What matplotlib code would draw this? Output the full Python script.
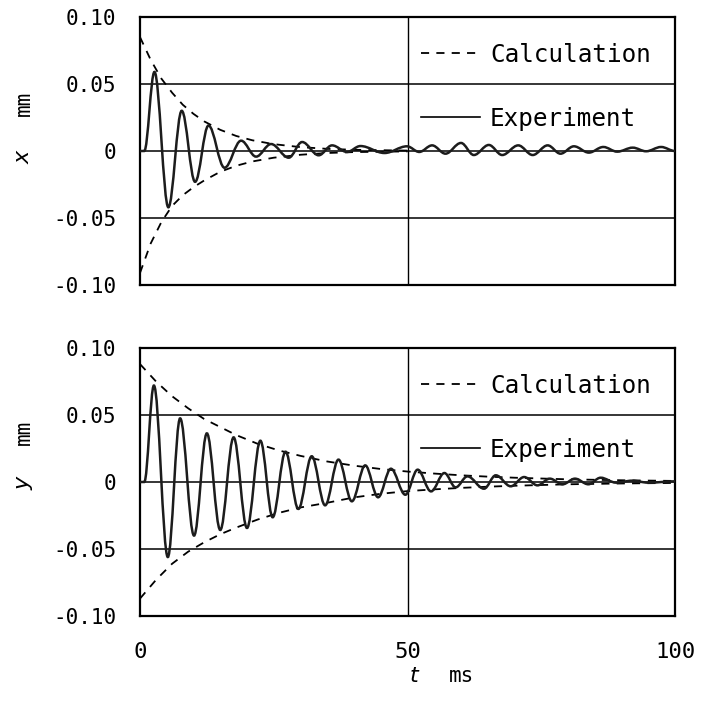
import matplotlib
matplotlib.use("Agg")
import matplotlib.pyplot as plt
from matplotlib.path import Path
from matplotlib.patches import PathPatch
from matplotlib.lines import Line2D

# ---------------- data ----------------
# Experiment, x direction: extrema (time ms, displacement mm)
x_exp_t = [0, 0.8, 2.7, 5.3, 7.8, 10.3, 12.8, 15.8, 18.9, 21.7, 24.5, 27.8, 30.3,
           33.4, 35.9, 38.7, 41.2, 45.7, 49.9, 52.2, 54.6, 57.1, 60.0, 62.4, 65.2,
           67.7, 70.7, 73.4, 76.2, 78.6, 81.1, 83.9, 86.6, 89.2, 92.1, 94.6, 97.4, 100]
x_exp_v = [0, 0, 0.059, -0.042, 0.030, -0.023, 0.019, -0.0125, 0.0077, -0.0042,
           0.0052, -0.005, 0.0067, -0.0032, 0.0042, -0.0007, 0.0037, -0.0015, 0.0035,
           -0.0007, 0.0042, -0.002, 0.006, -0.003, 0.0045, -0.003, 0.0042, -0.003,
           0.0042, -0.002, 0.0035, -0.0012, 0.003, -0.0005, 0.0025, -0.0002, 0.003, 0.0]

# Calculation envelope, x direction
x_env_t = [0, 2, 4, 6, 8, 10, 12, 15, 18, 21, 25, 30, 35, 40, 50]
x_env_up = [0.085, 0.068, 0.054, 0.0435, 0.0345, 0.0277, 0.0221, 0.0158, 0.0112,
            0.008, 0.0051, 0.0029, 0.0016, 0.0009, 0.0003]
x_env_lo = [-0.091, -0.069, -0.053, -0.041, -0.033, -0.027, -0.022, -0.0155, -0.011,
            -0.0078, -0.005, -0.0028, -0.0015, -0.0008, -0.0003]

# Experiment, y direction
y_exp_t = [0, 0.8, 2.6, 5.2, 7.5, 10.1, 12.5, 15.0, 17.5, 20.0, 22.5, 24.8, 27.2,
           29.6, 32.1, 34.6, 37.1, 39.6, 42.1, 44.5, 46.9, 49.6, 51.9, 54.4, 56.9,
           59.0, 61.2, 64.3, 66.5, 69.3, 71.8, 74.3, 76.6, 79.0, 81.3, 83.8, 86.1,
           89.0, 92.0, 95.0, 100]
y_exp_v = [0, 0, 0.072, -0.056, 0.0475, -0.040, 0.0363, -0.0358, 0.0333, -0.0343,
           0.0308, -0.0263, 0.0226, -0.0201, 0.0192, -0.0174, 0.0167, -0.0144, 0.0124,
           -0.0114, 0.0099, -0.0095, 0.0092, -0.007, 0.0067, -0.004, 0.0042, -0.005,
           0.005, -0.0032, 0.0037, -0.0025, 0.0025, -0.0017, 0.0025, -0.0017, 0.0032,
           -0.0005, 0.001, -0.0005, 0.0005]

# Calculation envelope, y direction
y_env_t = [0, 3, 6, 9, 12, 15, 18, 22, 26, 30, 35, 40, 45, 50, 55, 60, 65, 70, 80, 90, 100]
y_env_up = [0.088, 0.075, 0.064, 0.055, 0.047, 0.041, 0.035, 0.0285, 0.0235, 0.0195,
            0.0153, 0.0122, 0.0097, 0.0078, 0.0063, 0.005, 0.004, 0.0032, 0.002,
            0.0013, 0.0008]
y_env_lo = [-0.087, -0.073, -0.061, -0.052, -0.045, -0.039, -0.034, -0.028, -0.023,
            -0.019, -0.0155, -0.0115, -0.0088, -0.0068, -0.0055, -0.0044, -0.0035,
            -0.0028, -0.0017, -0.0011, -0.0007]

x_ticks = [0, 50, 100]
x_ticklabels = ["0", "50", "100"]
y_ticks = [-0.10, -0.05, 0, 0.05, 0.10]
y_ticklabels = ["-0.10", "-0.05", "0", "0.05", "0.10"]
legend_labels = ["Calculation", "Experiment"]

MONO = "DejaVu Sans Mono"
DASH = (4.5, 4.0)


def smooth_path(ts, vs, h=0.3634):
    """Cubic Bezier through consecutive extrema with flat tangents."""
    verts = [(ts[0], vs[0])]
    codes = [Path.MOVETO]
    for i in range(1, len(ts)):
        t0, v0, t1, v1 = ts[i - 1], vs[i - 1], ts[i], vs[i]
        d = t1 - t0
        verts += [(t0 + h * d, v0), (t1 - h * d, v1), (t1, v1)]
        codes += [Path.CURVE4] * 3
    return Path(verts, codes)


fig = plt.figure(figsize=(7.02, 7.07), dpi=100)
W, H = 702, 707
panels = [
    (17, 285, x_exp_t, x_exp_v, x_env_t, x_env_up, x_env_lo, "x", 157, 103),
    (348, 616, y_exp_t, y_exp_v, y_env_t, y_env_up, y_env_lo, "y", 483, 432),
]
L, R = 140, 675
for (top, bot, et, ev, nt, nup, nlo, sym, sym_y, mm_y) in panels:
    ax = fig.add_axes([L / W, 1 - bot / H, (R - L) / W, (bot - top) / H])
    ax.set_xlim(0, 100)
    ax.set_ylim(-0.10, 0.10)
    for yv in (-0.05, 0, 0.05):
        ax.axhline(yv, color="black", lw=1.1, zorder=1)
    ax.axvline(50, color="black", lw=1.0, zorder=1)
    ax.plot(nt, nup, color="black", lw=1.3, dashes=DASH, zorder=3)
    ax.plot(nt, nlo, color="black", lw=1.3, dashes=DASH, zorder=3)
    ax.add_patch(PathPatch(smooth_path(et, ev), facecolor="none",
                           edgecolor="#1c1c1c", lw=1.8, zorder=4))
    for s in ax.spines.values():
        s.set_linewidth(1.6)
    ax.set_xticks(x_ticks)
    ax.set_yticks(y_ticks)
    ax.set_yticklabels(y_ticklabels, fontfamily=MONO, fontsize=15)
    ax.tick_params(length=0, pad=17)
    if sym == "x":
        ax.set_xticklabels([])
    else:
        ax.set_xticklabels(x_ticklabels, fontfamily=MONO, fontsize=16)
        ax.tick_params(axis="x", pad=19)
    handles = [Line2D([], [], color="black", lw=1.3, dashes=DASH),
               Line2D([], [], color="black", lw=1.2)]
    ax.legend(handles, legend_labels, loc="center left",
              bbox_to_anchor=(0.525, 0.74), frameon=False,
              prop={"family": MONO, "size": 17.5}, handlelength=2.43,
              handletextpad=0.41, labelspacing=1.65, borderpad=0,
              borderaxespad=0)
    fig.text(24 / W, 1 - sym_y / H, sym, rotation=90, ha="center", va="center",
             fontsize=16, fontstyle="italic", family="DejaVu Sans")
    fig.text(24 / W, 1 - mm_y / H, "mm", rotation=90, ha="center", va="center",
             fontsize=15, family=MONO)

fig.text(414 / W, 1 - 676 / H, "t", ha="center", va="center", fontsize=16,
         fontstyle="italic", family="DejaVu Sans")
fig.text(462 / W, 1 - 676 / H, "ms", ha="center", va="center", fontsize=15,
         family=MONO)

fig.savefig("out.png", dpi=100)
